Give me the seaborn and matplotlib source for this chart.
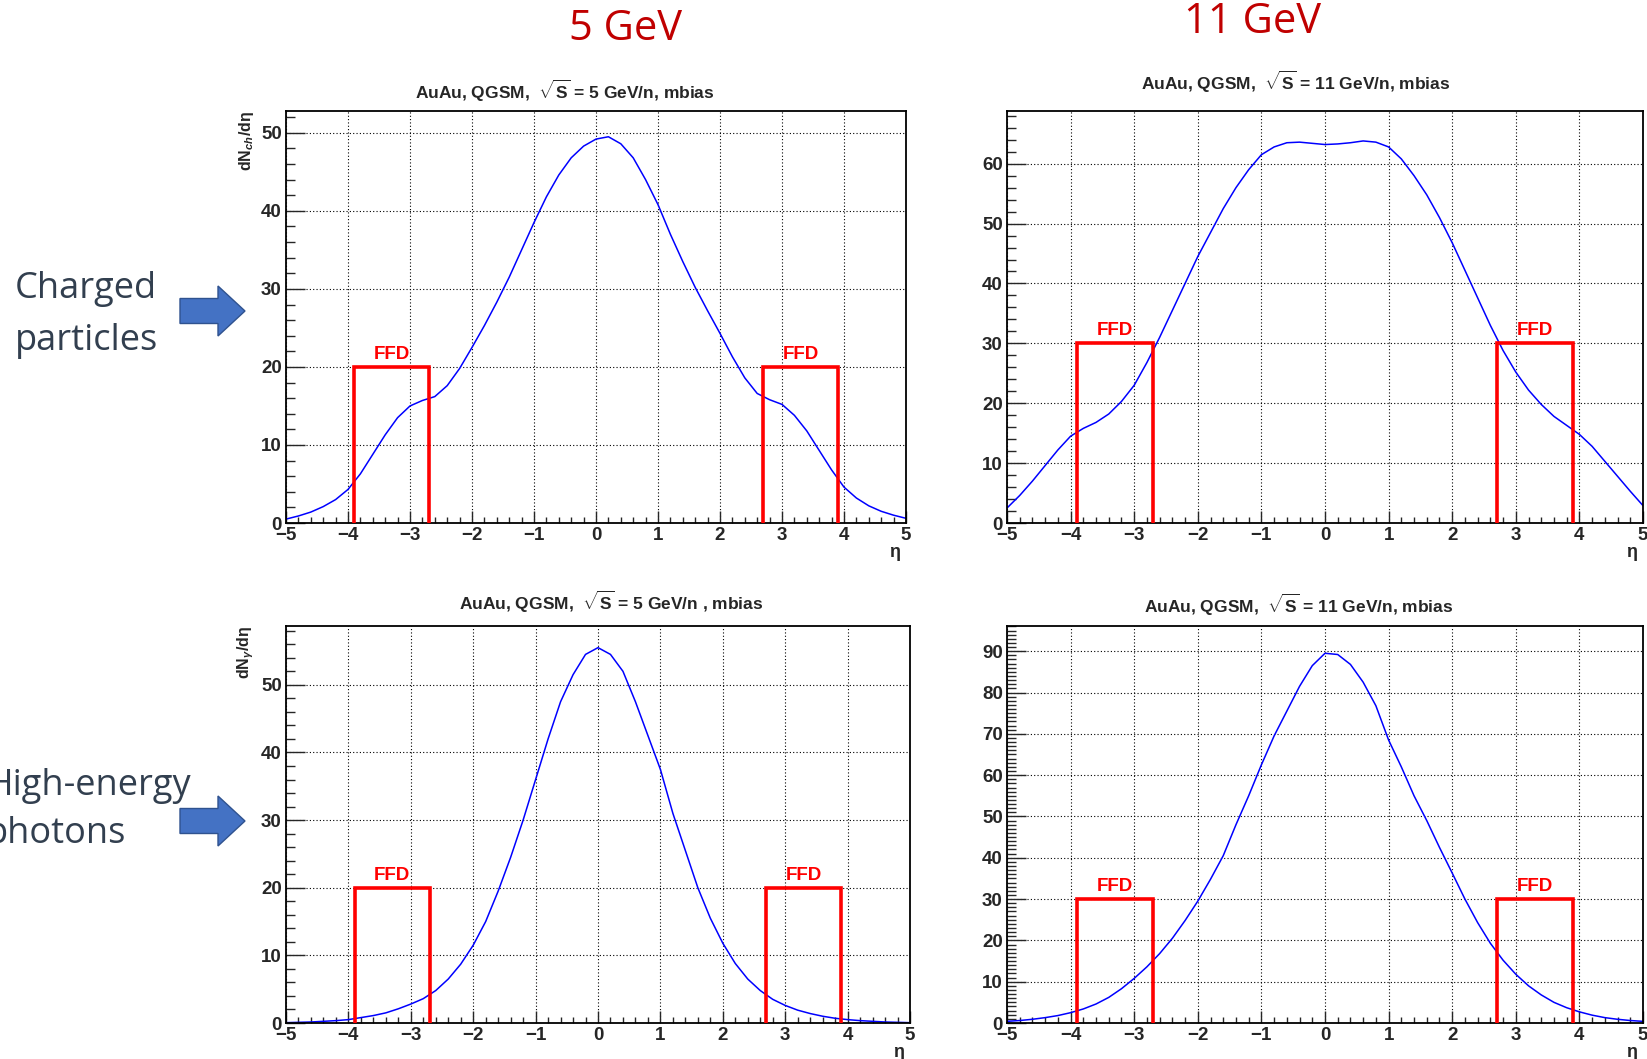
import numpy as np
import pandas as pd
import matplotlib
matplotlib.use("Agg")
import matplotlib.pyplot as plt
import seaborn as sns
from matplotlib.ticker import MultipleLocator
from matplotlib.patches import Polygon

# ---------------- data ----------------
eta = [-5.0, -4.8, -4.6, -4.4, -4.2, -4.0, -3.8, -3.6, -3.4, -3.2, -3.0, -2.8, -2.6,
       -2.4, -2.2, -2.0, -1.8, -1.6, -1.4, -1.2, -1.0, -0.8, -0.6, -0.4, -0.2, 0.0,
       0.2, 0.4, 0.6, 0.8, 1.0, 1.2, 1.4, 1.6, 1.8, 2.0, 2.2, 2.4, 2.6, 2.8, 3.0,
       3.2, 3.4, 3.6, 3.8, 4.0, 4.2, 4.4, 4.6, 4.8, 5.0]

ch_5gev = [0.5, 0.9, 1.4, 2.1, 3.0, 4.3, 6.3, 8.8, 11.3, 13.5, 15.0, 15.7, 16.2,
           17.6, 19.8, 22.5, 25.3, 28.3, 31.5, 35.0, 38.5, 41.8, 44.6, 46.8, 48.3, 49.2,
           49.5, 48.6, 46.8, 44.0, 40.8, 37.0, 33.5, 30.2, 27.2, 24.3, 21.3, 18.6, 16.6,
           15.8, 15.2, 13.8, 11.8, 9.3, 6.8, 4.6, 3.2, 2.2, 1.5, 1.0, 0.6]

ch_11gev = [2.5, 4.6, 7.0, 9.6, 12.2, 14.5, 15.8, 16.8, 18.2, 20.3, 23.0, 26.8, 31.0,
            35.5, 40.0, 44.5, 48.5, 52.5, 56.0, 59.0, 61.5, 62.8, 63.5, 63.6, 63.4, 63.2,
            63.3, 63.5, 63.8, 63.6, 62.8, 60.8, 58.0, 54.8, 51.0, 46.8, 42.2, 37.6, 33.0,
            28.8, 25.2, 22.2, 19.8, 17.8, 16.3, 14.8, 12.8, 10.3, 7.8, 5.3, 2.9]

ph_5gev = [0.05, 0.1, 0.15, 0.25, 0.35, 0.5, 0.8, 1.1, 1.5, 2.1, 2.8, 3.6, 4.8,
           6.5, 8.7, 11.5, 15.0, 19.5, 24.5, 30.0, 36.0, 42.0, 47.5, 51.5, 54.5, 55.5,
           54.5, 52.0, 47.5, 42.5, 37.5, 31.0, 25.5, 20.0, 15.5, 11.8, 8.8, 6.5, 4.8,
           3.5, 2.6, 1.9, 1.4, 1.0, 0.7, 0.5, 0.35, 0.25, 0.15, 0.1, 0.05]

ph_11gev = [0.4, 0.6, 0.9, 1.3, 1.8, 2.5, 3.4, 4.6, 6.2, 8.3, 10.8, 13.6, 16.8,
            20.5, 24.8, 29.5, 34.8, 40.5, 48.0, 55.0, 62.5, 69.5, 75.5, 81.5, 86.5, 89.5,
            89.2, 86.8, 82.5, 76.8, 68.5, 62.0, 55.0, 49.0, 42.5, 36.3, 30.0, 24.3, 19.3,
            15.2, 11.8, 9.0, 6.8, 5.0, 3.7, 2.7, 1.9, 1.3, 0.9, 0.6, 0.4]

ffd_left = [-3.9, -2.7]
ffd_right = [2.7, 3.9]
ffd_height = [20, 30, 20, 30]

titles = [r"AuAu, QGSM,  $\sqrt{\mathrm{S}}$ = 5 GeV/n, mbias",
          r"AuAu, QGSM,  $\sqrt{\mathrm{S}}$ = 11 GeV/n, mbias",
          r"AuAu, QGSM,  $\sqrt{\mathrm{S}}$ = 5 GeV/n , mbias",
          r"AuAu, QGSM,  $\sqrt{\mathrm{S}}$ = 11 GeV/n, mbias"]
ylabels = [r"dN$_{ch}$/dη", "", r"dN$_{\gamma}$/dη", ""]
ymax = [52.8, 68.8, 58.7, 96.1]
ymajor = [10, 10, 10, 10]
yminor = [2, 2, 2, 1]
col_heads = ["5 GeV", "11 GeV"]
row_heads = [["Charged", "particles"], ["High-energy", "photons"]]

series = [ch_5gev, ch_11gev, ph_5gev, ph_11gev]

# ---------------- style ----------------
sns.set_style("white")
plt.rcParams["font.family"] = ["Liberation Sans", "DejaVu Sans"]
plt.rcParams["mathtext.fontset"] = "custom"
plt.rcParams["mathtext.rm"] = "Liberation Sans:bold"
plt.rcParams["mathtext.it"] = "Liberation Sans:bold:italic"
plt.rcParams["mathtext.bf"] = "Liberation Sans:bold"
plt.rcParams["axes.unicode_minus"] = True

W, H = 1647, 1059
fig = plt.figure(figsize=(W / 100, H / 100), dpi=100)

def fx(x):
    return x / W

def fy(y):
    return 1 - y / H

# axes boxes in pixels (left, top, right, bottom)
boxes = [(286, 111, 906, 523), (1007, 111, 1643, 523),
         (286, 626, 910, 1023), (1007, 626, 1643, 1023)]
title_pos = [(565, 91), (1296, 82), (611, 602), (1299, 605)]

for i, (l, t, r, b) in enumerate(boxes):
    ax = fig.add_axes([fx(l), fy(b), (r - l) / W, (b - t) / H])
    df = pd.DataFrame({"eta": eta, "dn": series[i]})
    sns.lineplot(data=df, x="eta", y="dn", ax=ax, color="#0000ff", lw=1.1)
    ax.set_xlim(-5, 5)
    ax.set_ylim(0, ymax[i])
    ax.xaxis.set_major_locator(MultipleLocator(1))
    ax.xaxis.set_minor_locator(MultipleLocator(0.2))
    ax.yaxis.set_major_locator(MultipleLocator(ymajor[i]))
    ax.yaxis.set_minor_locator(MultipleLocator(yminor[i]))
    ax.tick_params(axis="y", which="major", direction="in", length=13.5, width=1.0,
                   labelsize=13.5, pad=3, left=True, right=False)
    ax.tick_params(axis="y", which="minor", direction="in", length=6.8, width=1.0,
                   left=True, right=False)
    ax.tick_params(axis="x", which="major", direction="in", length=8.5, width=1.0,
                   labelsize=13.5, pad=3, bottom=True, top=False)
    ax.tick_params(axis="x", which="minor", direction="in", length=4.3, width=1.0,
                   bottom=True, top=False)
    for lab in ax.get_xticklabels() + ax.get_yticklabels():
        lab.set_fontweight("bold")
    ax.grid(True, which="major", color="black", linestyle=(0, (1, 2)), linewidth=0.8)
    for sp in ax.spines.values():
        sp.set_color("black")
        sp.set_linewidth(1.3)
    ax.set_xlabel("")
    ax.set_ylabel("")

    h = ffd_height[i]
    for (x0, x1) in (ffd_left, ffd_right):
        ax.plot([x0, x0, x1, x1], [0, h, h, 0], color="#ff0000", lw=2.6,
                solid_joinstyle="miter", zorder=5)
        ax.annotate("FFD", xy=((x0 + x1) / 2, h), xytext=(0, 3),
                    textcoords="offset points", ha="center", va="bottom",
                    color="#ff0000", fontsize=13.5, fontweight="bold")

    ax.annotate("η", xy=(1, 0), xycoords="axes fraction", xytext=(-4, -21),
                textcoords="offset points", ha="right", va="center",
                fontsize=13, fontweight="bold")

    tx, ty = title_pos[i]
    fig.text(fx(tx), fy(ty), titles[i], ha="center", va="center",
             fontsize=12.5, fontweight="bold")
    if ylabels[i]:
        fig.text(fx(246), fy(t), ylabels[i], rotation=90, ha="center", va="top",
                 fontsize=11.5, fontweight="bold")

# column headings
head_col = "#c00000"
fig.text(fx(626), fy(29), col_heads[0], ha="center", va="center",
         fontsize=30, color=head_col, family=["Open Sans", "DejaVu Sans"])
fig.text(fx(1253), fy(22), col_heads[1], ha="center", va="center",
         fontsize=30, color=head_col, family=["Open Sans", "DejaVu Sans"])

# row headings
txt_col = "#323f4f"
fig.text(fx(15), fy(298), row_heads[0][0], ha="left", va="baseline",
         fontsize=26, color=txt_col, family=["Open Sans", "DejaVu Sans"])
fig.text(fx(15), fy(350), row_heads[0][1], ha="left", va="baseline",
         fontsize=26, color=txt_col, family=["Open Sans", "DejaVu Sans"])
fig.text(fx(-14), fy(795), row_heads[1][0], ha="left", va="baseline",
         fontsize=26, color=txt_col, family=["Open Sans", "DejaVu Sans"])
fig.text(fx(-14), fy(843), row_heads[1][1], ha="left", va="baseline",
         fontsize=26, color=txt_col, family=["Open Sans", "DejaVu Sans"])

# block arrows
def block_arrow(yc):
    pts = [(180, yc - 12.5), (218, yc - 12.5), (218, yc - 25), (245, yc),
           (218, yc + 25), (218, yc + 12.5), (180, yc + 12.5)]
    poly = Polygon([(fx(x), fy(y)) for x, y in pts], closed=True,
                   transform=fig.transFigure, facecolor="#4472c4",
                   edgecolor="#2f528f", linewidth=1.0)
    fig.patches.append(poly)

block_arrow(311)
block_arrow(821)

fig.savefig("out.png", dpi=100)
